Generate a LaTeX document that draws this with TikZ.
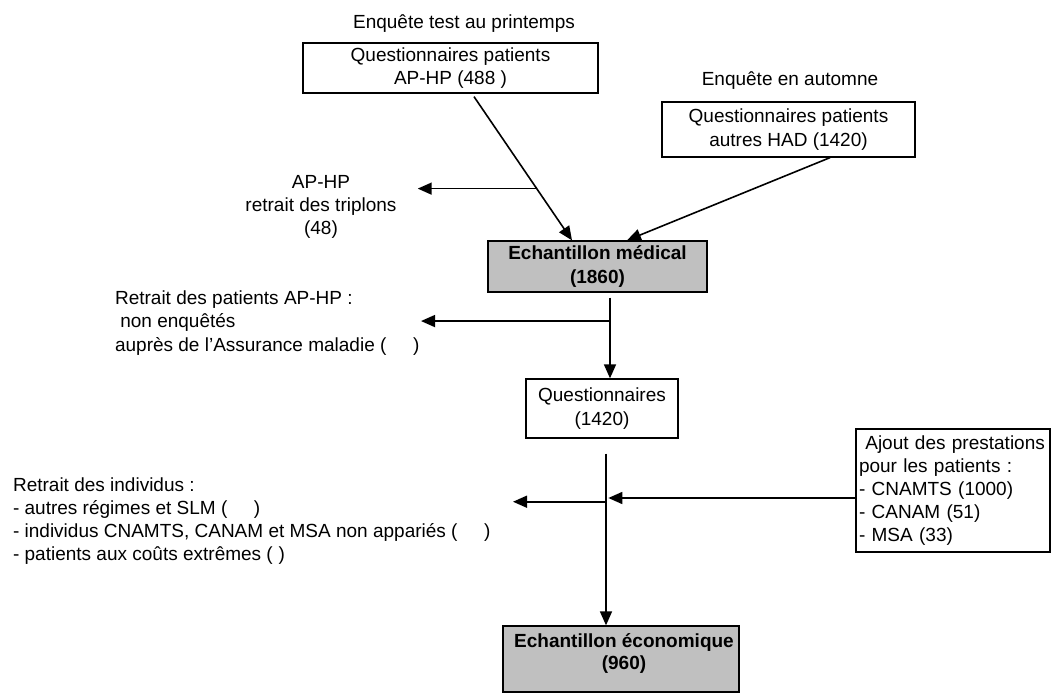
\documentclass[tikz,border=0pt]{standalone}
\usepackage{fontspec}
\setmainfont{Liberation Sans}
\usepackage{xcolor}
\usepackage{tikz}
\usetikzlibrary{positioning,arrows.meta}

\definecolor{boxgray}{HTML}{C0C0C0}

\begin{document}
\begin{tikzpicture}[x=0.5pt, y=-0.5pt,
		every node/.style={font=\fontsize{9.5}{11.6}\selectfont},
		plainbox/.style={draw, line width=0.65pt, inner sep=0pt, align=center},
		graybox/.style={plainbox, fill=boxgray, font=\fontsize{9.5}{11.6}\selectfont\bfseries},
		arr/.style={-{Triangle[length=7pt, width=6pt]}, line width=0.8pt}]
		\useasboundingbox (0,0) rectangle (1055,700);

		% sources
		\node (t1) at (464,24) {Enquête test au printemps};
		\node[plainbox, minimum width=147.5pt, minimum height=25pt] (q1) at (450.5,68) {Questionnaires patients\\AP-HP (488 )};
		\node (t2) at (790,81) {Enquête en automne};
		\node[plainbox, minimum width=126.5pt, minimum height=27.5pt] (q2) at (788.5,129.5) {Questionnaires patients\\autres HAD (1420)};

		\node[align=center] (trip) at (321,207) {AP-HP\\retrait des triplons\\(48)};
		\node[graybox, minimum width=109.5pt, minimum height=25.5pt] (med) at (597.5,266.5) {Echantillon médical\\(1860)};

		\node[align=left, anchor=west] (retap) at (108,323) {Retrait des patients AP-HP :\\\ non enquêtés\\auprès de l'Assurance maladie (\hspace{1.4em})};
		\node[plainbox, minimum width=76pt, minimum height=29.5pt] (quest) at (602,408.5) {Questionnaires\\(1420)};

		\node[align=left, anchor=west] (retind) at (6,521) {Retrait des individus :\\- autres régimes et SLM (\hspace{1.4em})\\- individus CNAMTS, CANAM et MSA non appariés (\hspace{1.4em})\\- patients aux coûts extrêmes (\hspace{0.3em})};
		\node[draw, line width=0.65pt, inner sep=1.5pt, align=left, text width=94pt, minimum height=61.5pt] (ajout) at (953,490.5) {\ Ajout des prestations\\pour les patients :\\- CNAMTS (1000)\\- CANAM (51)\\- MSA (33)};

		\node[draw, line width=0.65pt, fill=boxgray, minimum width=118pt, minimum height=33pt] (eco) at (621,659) {};
		\node[align=center, font=\fontsize{9.5}{11}\selectfont\bfseries] (ecotxt) at (624,653) {Echantillon économique\\(960)};

		% connectors
		\draw[arr] ([xshift=11.75pt, yshift=-1.5pt]q1.south) -- node[pos=0.64, coordinate] (tj) {} ([xshift=-12.75pt]med.north);
		\draw[arr] ([xshift=20.75pt]q2.south) -- ([xshift=14.75pt]med.north);
		\draw[arr] (tj) -- ++(-119,0);

		\draw[arr] ([xshift=6.25pt, yshift=-2.5pt]med.south) -- node[pos=0.29, coordinate] (mj) {} ([xshift=4pt]quest.north);
		\draw[arr] (mj) -- ++(-189,0);

		\draw[arr] ([xshift=2pt, yshift=-7.5pt]quest.south) -- node[pos=0.28, coordinate] (qj) {} ([xshift=-7.5pt]eco.north);
		\draw[arr] (qj) -- ++(-93,0);
		\draw[arr] ([yshift=-3.75pt]ajout.west) -- ++(-247,0);
	\end{tikzpicture}
\end{document}
